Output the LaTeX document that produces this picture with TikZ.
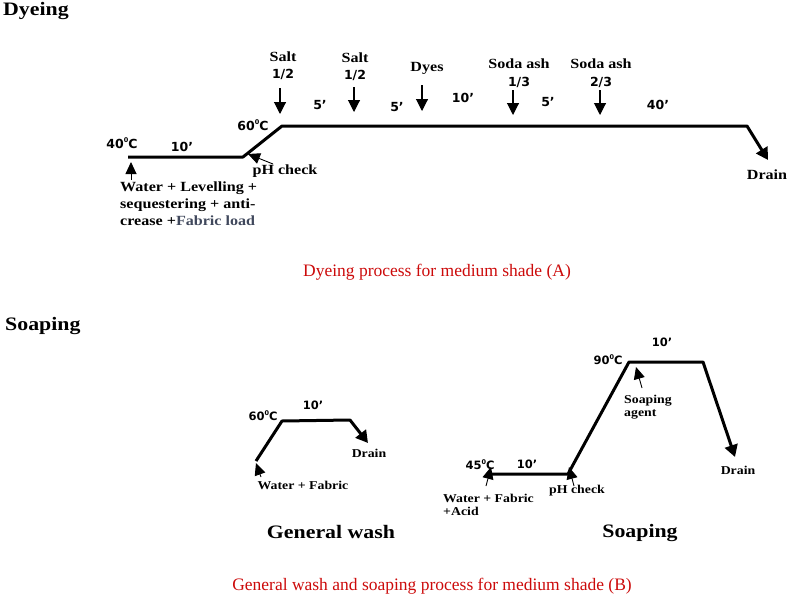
\documentclass[tikz,border=0pt]{standalone}
\usepackage{fontspec}
\setmainfont{Liberation Serif}
\newfontfamily\lblf[FakeStretch=1.15]{Liberation Serif}
\newfontfamily\numf{DejaVu Sans}
\usetikzlibrary{arrows.meta}
\definecolor{capred}{RGB}{204,10,10}
\definecolor{fabblue}{RGB}{64,72,92}
\newcommand{\degz}{\raisebox{0.45em}{\fontsize{6.5}{6.5}\selectfont 0}}
\begin{document}
\begin{tikzpicture}[x=1pt,y=-1pt,
  lab/.style={font=\lblf\bfseries\fontsize{14}{17}\selectfont, inner sep=0pt},
  labs/.style={font=\lblf\bfseries\fontsize{12}{13}\selectfont, inner sep=0pt},
  num/.style={font=\numf\bfseries\fontsize{12.5}{14}\selectfont, inner sep=0pt},
  nums/.style={font=\numf\bfseries\fontsize{11.5}{13}\selectfont, inner sep=0pt},
  head/.style={font=\lblf\bfseries\fontsize{19}{22}\selectfont, inner sep=0pt},
  captxt/.style={font=\fontsize{17.5}{20}\selectfont, text=capred, inner sep=0pt},
  proc/.style={line width=3pt, line join=round, -{Triangle[width=13pt,length=12pt]}},
  addv/.style={line width=1.1pt, -{Triangle[width=12pt,length=12pt]}},
  adds/.style={line width=0.9pt, -{Triangle[width=11pt,length=12pt]}}]
\useasboundingbox (0,0) rectangle (789,597);

% ---------- Dyeing ----------
\node[head, anchor=base west] (hdye) at (3,15) {Dyeing};

\coordinate (d1) at (128,157);
\coordinate (d2) at (243,157);
\coordinate (d3) at (282,126);
\coordinate (d4) at (747,126);
\coordinate (d5) at (768,160);
\draw[proc] (d1) -- (d2) -- (d3) -- (d4) -- (d5);

\node[num] (t40) at (122,143) {40\degz C};
\node[num] (t10a) at (182,147) {10’};
\node[num] (t60) at (253,125) {60\degz C};
\node[lab] (ph1) at (285,171) {pH check};
\coordinate (ph1t) at (273,164);
\coordinate (ph1h) at (248,154);
\draw[adds] (ph1t) -- (ph1h);

\coordinate (w1t) at (131,180);
\coordinate (w1h) at (131,162);
\draw[adds] (w1t) -- (w1h);
\node[lab, anchor=north west, align=left] (water1) at (120,182)
  {Water + Levelling +\\ sequestering + anti-\\ crease +\textcolor{fabblue}{Fabric load}};

\node[lab] (salt1) at (283,57) {Salt};
\node[num] (salt1f) at (283,74) {1/2};
\coordinate (s1a) at (280,88); \coordinate (s1b) at (280,114);
\draw[addv] (s1a) -- (s1b);
\node[num] (t5a) at (320,105) {5’};

\node[lab] (salt2) at (355,58) {Salt};
\node[num] (salt2f) at (355,75) {1/2};
\coordinate (s2a) at (354,87); \coordinate (s2b) at (354,112);
\draw[addv] (s2a) -- (s2b);
\node[num] (t5b) at (397,107) {5’};

\node[lab] (dyes) at (427,68) {Dyes};
\coordinate (dya) at (422,85); \coordinate (dyb) at (422,111);
\draw[addv] (dya) -- (dyb);
\node[num] (t10b) at (463,98) {10’};

\node[lab] (soda1) at (519,64) {Soda ash};
\node[num] (soda1f) at (519,82) {1/3};
\coordinate (sa1a) at (513,90); \coordinate (sa1b) at (513,115);
\draw[addv] (sa1a) -- (sa1b);
\node[num] (t5c) at (548,102) {5’};

\node[lab] (soda2) at (601,64) {Soda ash};
\node[num] (soda2f) at (601,82) {2/3};
\coordinate (sa2a) at (600,90); \coordinate (sa2b) at (600,115);
\draw[addv] (sa2a) -- (sa2b);
\node[num] (t40b) at (658,105) {40’};

\node[lab] (drain1) at (767,175) {Drain};

\node[captxt] (capA) at (437,272) {Dyeing process for medium shade (A)};

% ---------- Soaping ----------
\node[head, anchor=base west] (hsoap) at (5,330) {Soaping};

% General wash
\coordinate (g1) at (256,461);
\coordinate (g2) at (282,421);
\coordinate (g3) at (350,420);
\coordinate (g4) at (368,443);
\draw[proc] (g1) -- (g2) -- (g3) -- (g4);
\node[nums] (g60) at (263,416) {60\degz C};
\node[nums] (g10) at (313,405) {10’};
\node[labs] (gdrain) at (369,453) {Drain};
\node[labs] (gwater) at (303,485) {Water + Fabric};
\coordinate (gwt) at (261,477); \coordinate (gwh) at (256,463);
\draw[adds] (gwt) -- (gwh);
\node[head] (gtitle) at (331,532) {General wash};

% Soaping
\coordinate (p1) at (489,474);
\coordinate (p2) at (568,474);
\coordinate (p3) at (629,362);
\coordinate (p4) at (703,362);
\coordinate (p5) at (735,457);
\draw[proc] (p1) -- (p2) -- (p3) -- (p4) -- (p5);
\node[nums] (p45) at (480,465) {45\degz C};
\node[nums] (p10a) at (527,464) {10’};
\node[nums] (p90) at (608,360) {90\degz C};
\node[nums] (p10b) at (662,342) {10’};
\node[labs, anchor=north west, align=left] (pagent) at (624,395) {Soaping\\agent};
\coordinate (pat) at (642,388); \coordinate (pah) at (636,367);
\draw[adds] (pat) -- (pah);
\node[labs] (pdrain) at (738,470) {Drain};
\node[labs] (pph) at (577,491) {pH check};
\coordinate (ppt) at (574,486); \coordinate (pph2) at (569,467);
\draw[adds] (ppt) -- (pph2);
\node[labs, anchor=north west, align=left] (pwater) at (443,494) {Water + Fabric\\+Acid};
\coordinate (pwt) at (486,486); \coordinate (pwh) at (491,467);
\draw[adds] (pwt) -- (pwh);
\node[head] (ptitle) at (640,533) {Soaping};

\node[captxt] (capB) at (432,586) {General wash and soaping process for medium shade (B)};
\end{tikzpicture}
\end{document}
